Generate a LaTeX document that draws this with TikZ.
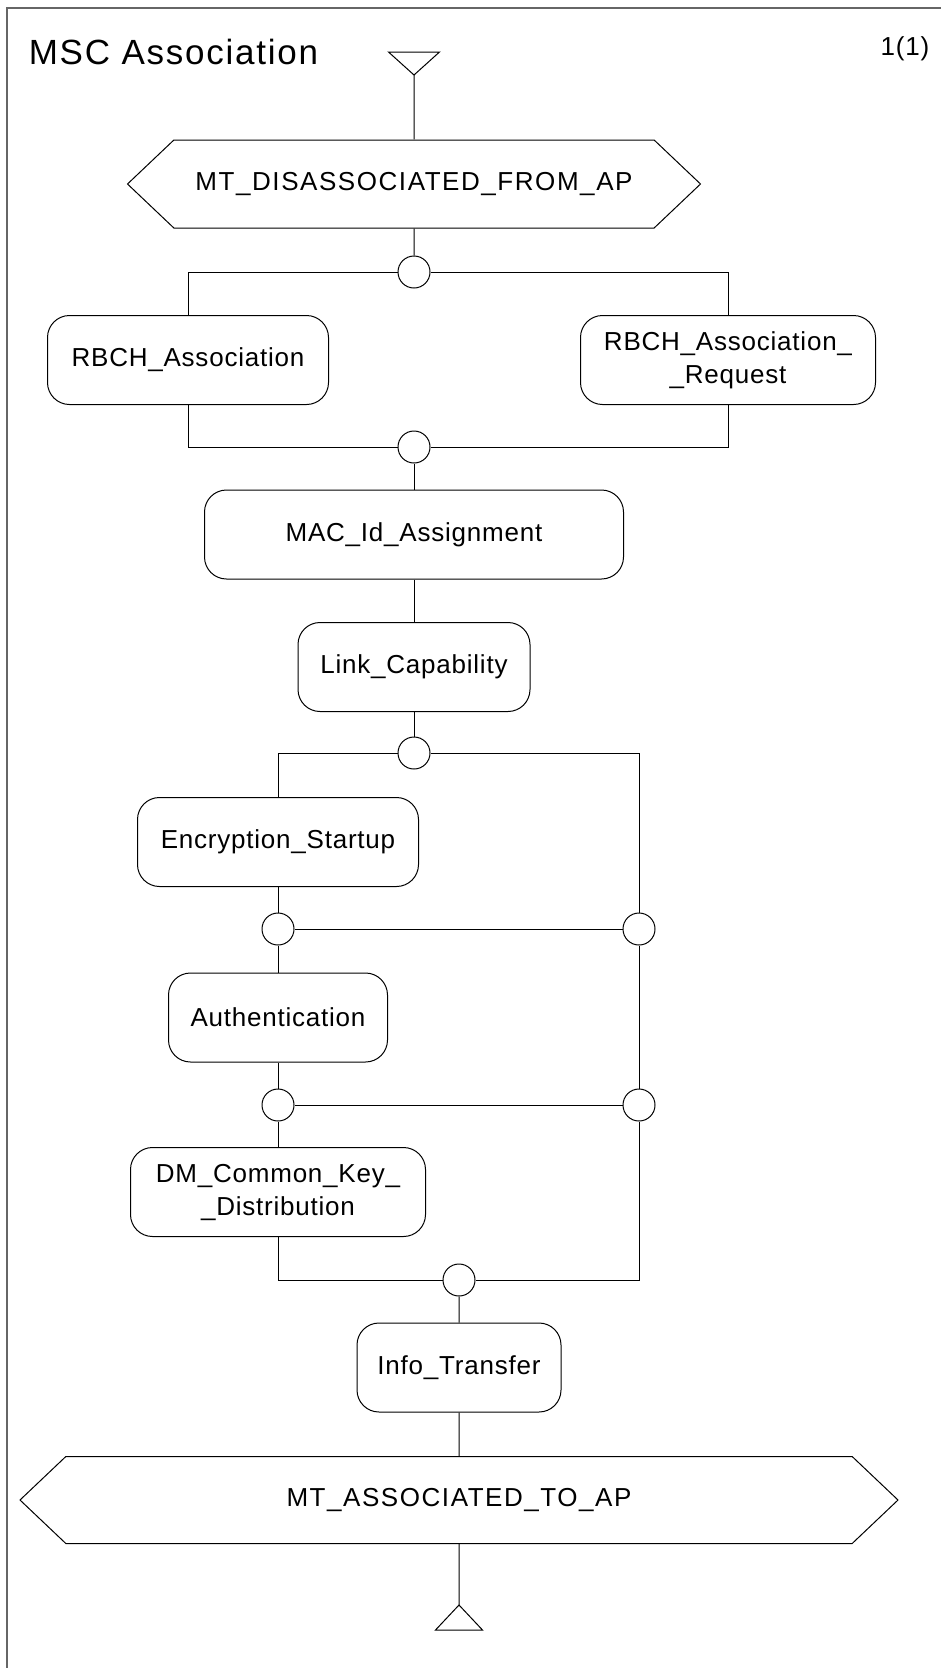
\documentclass[tikz,border=0pt]{standalone}
\usepackage{fontspec}
\setmainfont{Liberation Sans}[LetterSpace=3]
\usetikzlibrary{shapes.symbols}

\begin{document}
\begin{tikzpicture}[x=1pt,y=-1pt,line width=1pt]
        \tikzset{every node/.style={font=\fontsize{26}{33}\selectfont},
            refbox/.style={draw,rounded corners=22pt,minimum height=89pt,inner sep=0pt,align=center},
            joint/.style={draw,circle,minimum size=32pt,inner sep=0pt},
            statebox/.style={draw,signal,signal to=west and east,signal pointer angle=87,
                minimum height=88pt,inner sep=0pt,
                font=\fontsize{26}{33}\selectfont\addfontfeatures{LetterSpace=6}}}
        \useasboundingbox (0,0) rectangle (941,1668);
        \draw[black!60,line width=2pt] (7,1668) -- (7,8) -- (941,8);
        \node[anchor=west,font=\fontsize{35}{40}\selectfont\addfontfeatures{LetterSpace=5}] (title) at (25,52) {MSC Association};
        \node[anchor=base] (page) at (905,55) {1(1)};

        \coordinate (in) at (414,75);
        \draw (in) -- ++(-25.5,-23) -- ++(51,0) -- cycle;
        \node[statebox,minimum width=573pt] (dis) at (414,184) {MT\_DISASSOCIATED\_FROM\_AP};

        \node[joint] (j1) at (414,272) {};
        \node[refbox,minimum width=281pt] (rbch) at (188,360) {RBCH\_Association};
        \node[refbox,minimum width=295pt] (rbchreq) at (728,360) {RBCH\_Association\_\\\_Request};
        \node[joint] (j2) at (414,447) {};
        \node[refbox,minimum width=419pt] (macid) at (414,534.5) {MAC\_Id\_Assignment};
        \node[refbox,minimum width=232pt] (linkcap) at (414,667) {Link\_Capability};
        \node[joint] (j3) at (414,753) {};

        \node[refbox,minimum width=281pt] (encr) at (278,842) {Encryption\_Startup};
        \node[joint] (j5) at (278,929) {};
        \node[joint] (j4) at (639,929) {};
        \node[refbox,minimum width=219pt] (auth) at (278,1017.5) {Authentication};
        \node[joint] (j7) at (278,1105) {};
        \node[joint] (j6) at (639,1105) {};
        \node[refbox,minimum width=295pt] (dmkey) at (278,1192) {DM\_Common\_Key\_\\\_Distribution};
        \node[joint] (j8) at (459,1280) {};
        \node[refbox,minimum width=204pt] (info) at (459,1367.5) {Info\_Transfer};

        \node[statebox,minimum width=878pt,minimum height=87pt] (assoc) at (459,1500) {MT\_ASSOCIATED\_TO\_AP};
        \coordinate (out) at (459,1605);
        \draw (out) -- ++(-23.5,25) -- ++(47,0) -- cycle;

        \draw (in) -- (dis) -- (j1);
        \draw (j1) -| (rbch);
        \draw (j1) -| (rbchreq);
        \draw (rbch) |- (j2);
        \draw (rbchreq) |- (j2);
        \draw (j2) -- (macid) -- (linkcap) -- (j3);
        \draw (j3) -| (encr);
        \draw (j3) -| (j4);
        \draw (encr) -- (j5) -- (auth) -- (j7) -- (dmkey);
        \draw (j5) -- (j4) -- (j6) -- (j7);
        \draw (dmkey) |- (j8);
        \draw (j6) |- (j8);
        \draw (j8) -- (info) -- (assoc) -- (out);
\end{tikzpicture}
\end{document}
